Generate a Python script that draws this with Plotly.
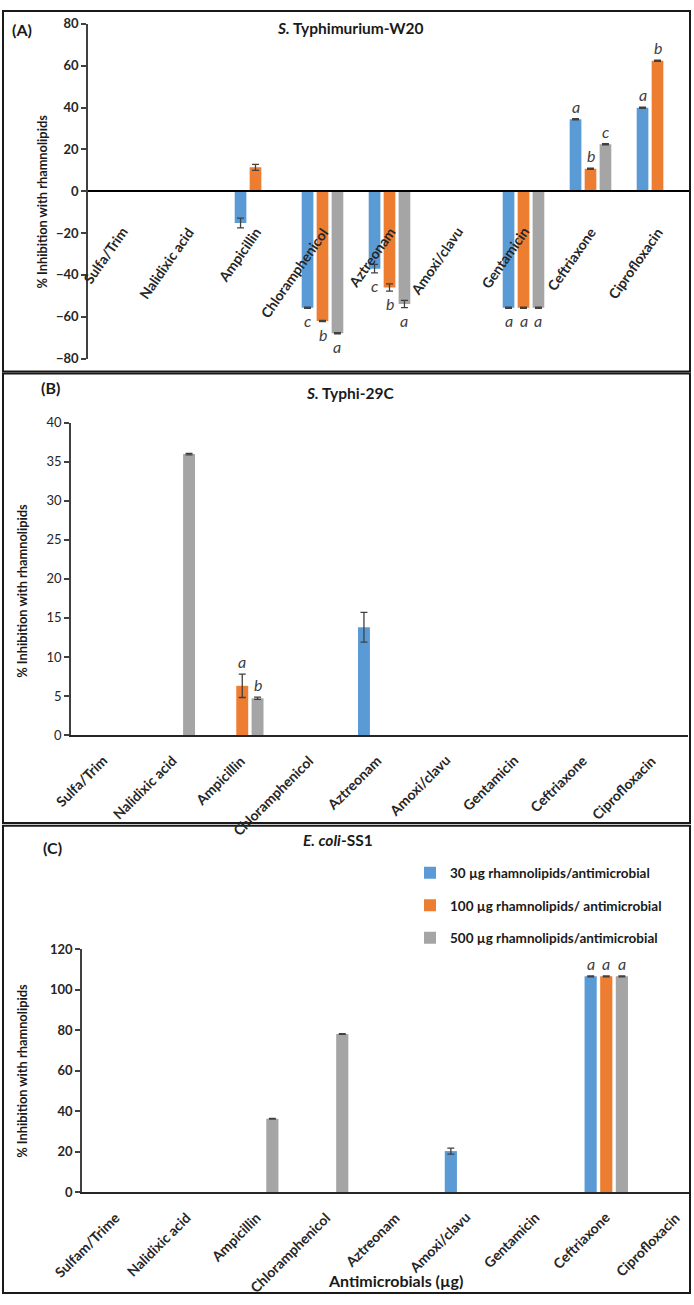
import plotly.graph_objects as go

W, H = 694, 1305
FONT = "Lato"

# ---------------- data ----------------
categories_AB = ["Sulfa/Trim", "Nalidixic acid", "Ampicillin", "Chloramphenicol", "Aztreonam",
                 "Amoxi/clavu", "Gentamicin", "Ceftriaxone", "Ciprofloxacin"]
categories_C = ["Sulfam/Trime", "Nalidixic acid", "Ampicillin", "Chloramphenicol", "Aztreonam",
                "Amoxi/clavu", "Gentamicin", "Ceftriaxone", "Ciprofloxacin"]

series_names = ["30 µg rhamnolipids/antimicrobial",
                "100 µg rhamnolipids/ antimicrobial",
                "500 µg rhamnolipids/antimicrobial"]
colors = ["#5B9BD5", "#ED7D31", "#A5A5A5"]

# Panel A: S. Typhimurium-W20
A_30 = [None, None, -15.2, -55.7, -37.0, None, -55.7, 34.4, 39.9]
A_30_err = [0, 0, 2.3, 0.3, 2.0, 0, 0.3, 0.3, 0.3]
A_30_sig = [None, None, None, "c", "c", None, "a", "a", "a"]
A_100 = [None, None, 11.4, -62.0, -46.0, None, -55.7, 10.7, 62.3]
A_100_err = [0, 0, 1.4, 0.3, 1.7, 0, 0.3, 0.3, 0.3]
A_100_sig = [None, None, None, "b", "b", None, "a", "b", "b"]
A_500 = [None, None, None, -67.9, -53.9, None, -55.7, 22.4, None]
A_500_err = [0, 0, 0, 0.3, 1.7, 0, 0.3, 0.3, 0]
A_500_sig = [None, None, None, "a", "a", None, "a", "c", None]

# Panel B: S. Typhi-29C
B_30 = [None, None, None, None, 13.8, None, None, None, None]
B_30_err = [0, 0, 0, 0, 1.9, 0, 0, 0, 0]
B_30_sig = [None] * 9
B_100 = [None, None, 6.3, None, None, None, None, None, None]
B_100_err = [0, 0, 1.5, 0, 0, 0, 0, 0, 0]
B_100_sig = [None, None, "a", None, None, None, None, None, None]
B_500 = [None, 36.0, 4.7, None, None, None, None, None, None]
B_500_err = [0, 0.1, 0.15, 0, 0, 0, 0, 0, 0]
B_500_sig = [None, None, "b", None, None, None, None, None, None]

# Panel C: E. coli-SS1
C_30 = [None, None, None, None, None, 20.2, None, 106.5, None]
C_30_err = [0, 0, 0, 0, 0, 1.5, 0, 0.2, 0]
C_30_sig = [None, None, None, None, None, None, None, "a", None]
C_100 = [None, None, None, None, None, None, None, 106.5, None]
C_100_err = [0, 0, 0, 0, 0, 0, 0, 0.2, 0]
C_100_sig = [None, None, None, None, None, None, None, "a", None]
C_500 = [None, None, 36.2, 78.0, None, None, None, 106.5, None]
C_500_err = [0, 0, 0.2, 0.2, 0, 0, 0, 0.2, 0]
C_500_sig = [None, None, None, None, None, None, None, "a", None]

y_title = "% Inhibition with rhamnolipids"
x_title_C = "Antimicrobials (µg)"

# ---------------- layout helpers ----------------
def px(x):
    return x / W

def py(y):
    return 1 - y / H

BARGAP = 0.33
BARGROUPGAP = 0.22

panels = [
    dict(key="", cats=categories_AB, vals=[A_30, A_100, A_500], errs=[A_30_err, A_100_err, A_500_err],
         sigs=[A_30_sig, A_100_sig, A_500_sig], xdom=(88, 691), xr=(-0.5, 8.5),
         lab_angle=-55, lab_dx=12, lab_dy=30),
    dict(key="2", cats=categories_AB, vals=[B_30, B_100, B_500], errs=[B_30_err, B_100_err, B_500_err],
         sigs=[B_30_sig, B_100_sig, B_500_sig], xdom=(71, 687.5), xr=(-0.5, 8.5),
         lab_angle=-45, lab_dx=8.5, lab_dy=14),
    dict(key="3", cats=categories_C, vals=[C_30, C_100, C_500], errs=[C_30_err, C_100_err, C_500_err],
         sigs=[C_30_sig, C_100_sig, C_500_sig], xdom=(82, 690), xr=(-0.5, 8.198),
         lab_angle=-45, lab_dx=9.5, lab_dy=14),
]

fig = go.Figure()
annotations = []
CAT_FONT = dict(family=FONT, size=14, weight="bold", color="#262626")

for pi, p in enumerate(panels):
    k = p["key"]
    for si in range(3):
        fig.add_trace(go.Bar(
            x=p["cats"], y=p["vals"][si], name=series_names[si],
            marker=dict(color=colors[si], line=dict(width=0)),
            error_y=dict(type="data", array=p["errs"][si], visible=True,
                         color="#404040", thickness=1.3, width=3.5),
            xaxis="x" + k, yaxis="y" + k,
            showlegend=(pi == 2), legendgroup="g%d" % si,
            hoverinfo="skip",
        ))
    # significance letters
    cat_px = (p["xdom"][1] - p["xdom"][0]) / (p["xr"][1] - p["xr"][0])
    slot = cat_px * (1 - BARGAP) / 3
    for si in range(3):
        for ci, s in enumerate(p["sigs"][si]):
            if not s:
                continue
            v = p["vals"][si][ci]
            e = p["errs"][si][ci]
            pos = v >= 0
            annotations.append(dict(
                xref="x" + k, yref="y" + k, x=p["cats"][ci], y=v + (e if pos else -e),
                text="<i>%s</i>" % s, showarrow=False,
                xshift=(si - 1) * slot, yshift=1 if pos else -1,
                yanchor="bottom" if pos else "top",
                font=dict(family=FONT, size=16, color="#404040"),
            ))
    # rotated category labels placed at the zero line of each panel
    for c in p["cats"]:
        annotations.append(dict(
            xref="x" + k, yref="y" + k, x=c, y=0, text="<b>%s</b>" % c, showarrow=False,
            textangle=p["lab_angle"], xanchor="right", yanchor="top",
            xshift=p["lab_dx"], yshift=-p["lab_dy"], font=CAT_FONT,
        ))

axis_common = dict(showgrid=False, zeroline=False, showticklabels=True)

ydomA = (py(355), py(16))
zero_pos = ydomA[0] + (0 - (-80)) / 160 * (ydomA[1] - ydomA[0])

fig.update_layout(
    xaxis=dict(domain=[px(88), px(691)], anchor="free", position=zero_pos, type="category",
               range=[-0.5, 8.5], showline=True, linewidth=2, linecolor="#000000", ticks="",
               showticklabels=False, showgrid=False, zeroline=False),
    yaxis=dict(domain=list(ydomA), anchor="x", range=[-80, 80], dtick=20, ticks="outside",
               ticklen=5, tickwidth=1.5, tickcolor="#404040", showline=True, linewidth=1.5,
               linecolor="#404040", tickfont=dict(family=FONT, size=13, weight="bold", color="#262626"),
               **axis_common),
    xaxis2=dict(domain=[px(71), px(687.5)], anchor="y2", type="category", range=[-0.5, 8.5],
                showline=True, linewidth=2, linecolor="#262626", ticks="",
                showticklabels=False, showgrid=False, zeroline=False),
    yaxis2=dict(domain=[py(736), py(420)], anchor="x2", range=[0, 40], dtick=5, ticks="outside",
                ticklen=5, tickwidth=1.5, tickcolor="#404040", showline=True, linewidth=1.5,
                linecolor="#404040", tickfont=dict(family=FONT, size=13, color="#262626"),
                **axis_common),
    xaxis3=dict(domain=[px(82), px(690)], anchor="y3", type="category", range=[-0.5, 8.198],
                showline=True, linewidth=2, linecolor="#262626", ticks="",
                showticklabels=False, showgrid=False, zeroline=False),
    yaxis3=dict(domain=[py(1198.7), py(952.7)], anchor="x3", range=[0, 120], dtick=20, ticks="outside",
                ticklen=5, tickwidth=1.5, tickcolor="#404040", showline=True, linewidth=1.5,
                linecolor="#404040", tickfont=dict(family=FONT, size=13, weight="bold", color="#262626"),
                **axis_common),
)

# panel titles, labels, axis titles
def txt(x, y, text, size=14, angle=0, color="#1a1a1a"):
    annotations.append(dict(xref="paper", yref="paper", x=px(x), y=py(y), text=text,
                            showarrow=False, textangle=angle, xanchor="center", yanchor="middle",
                            font=dict(family=FONT, size=size, color=color)))

txt(22, 22, "<b>(A)</b>", 16)
txt(350, 20, "<b><i>S.</i> Typhimurium-W20</b>", 15.5)
txt(42, 196, "<b>%s</b>" % y_title, 12.8, -90)

txt(50, 384, "<b>(B)</b>", 16)
txt(350, 390, "<b><i>S.</i> Typhi-29C</b>", 15.5)
txt(22, 590, "<b>%s</b>" % y_title, 12.8, -90)

txt(53, 850, "<b>(C)</b>", 16)
txt(338, 842, "<b><i>E. coli</i>-SS1</b>", 15.5)
txt(22, 1076, "<b>%s</b>" % y_title, 12.8, -90)
txt(395, 1288, "<b>%s</b>" % x_title_C, 16)

# panel borders
shapes = []
for (x0, y0, x1, y1) in [(3, 3, 690, 368), (3, 370, 690, 825), (3, 828, 690, 1301)]:
    shapes.append(dict(type="rect", xref="paper", yref="paper", x0=px(x0), y0=py(y1),
                       x1=px(x1), y1=py(y0), line=dict(color="#1a1a1a", width=2),
                       fillcolor="rgba(0,0,0,0)", layer="above"))

fig.update_layout(
    width=W, height=H, margin=dict(l=0, r=0, t=0, b=0),
    paper_bgcolor="white", plot_bgcolor="white",
    barmode="group", bargap=BARGAP, bargroupgap=BARGROUPGAP,
    annotations=annotations, shapes=shapes,
    font=dict(family=FONT, color="#1a1a1a"),
    legend=dict(x=px(410), y=py(860), xanchor="left", yanchor="top",
                font=dict(family=FONT, size=13.5, weight="bold", color="#1a1a1a"),
                tracegroupgap=12, bgcolor="rgba(0,0,0,0)", itemclick=False, itemdoubleclick=False),
)

fig.write_html("out.html")
